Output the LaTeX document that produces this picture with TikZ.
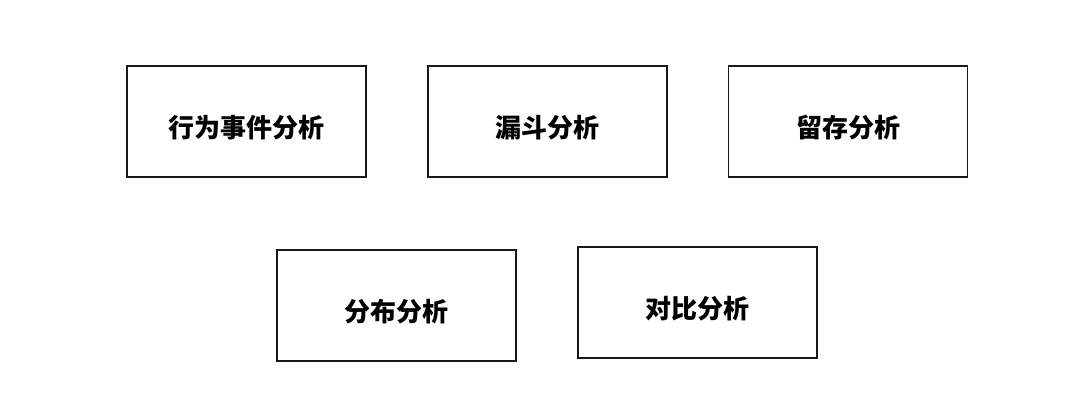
\documentclass[tikz,border=0pt]{standalone}
\usepackage{fontspec}
\newfontfamily\cjk{Noto Sans CJK SC}
\begin{document}
\begin{tikzpicture}[x=1pt,y=-1pt,
  box/.style={draw=black!90,line width=1.6pt,minimum width=239pt,minimum height=111pt,inner sep=0pt,text height=32pt,text depth=0pt,font=\cjk\bfseries\fontsize{26}{30}\selectfont}]
\useasboundingbox (0,0) rectangle (1080,415);
\node[box] (a) at (246.5,121.5) {行为事件分析};
\node[box] (b) at (547.5,121.5) {漏斗分析};
\node[box] (c) at (848,121.5) {留存分析};
\node[box] (d) at (396.5,305.5) {分布分析};
\node[box] (e) at (697.5,302.5) {对比分析};
\end{tikzpicture}
\end{document}
